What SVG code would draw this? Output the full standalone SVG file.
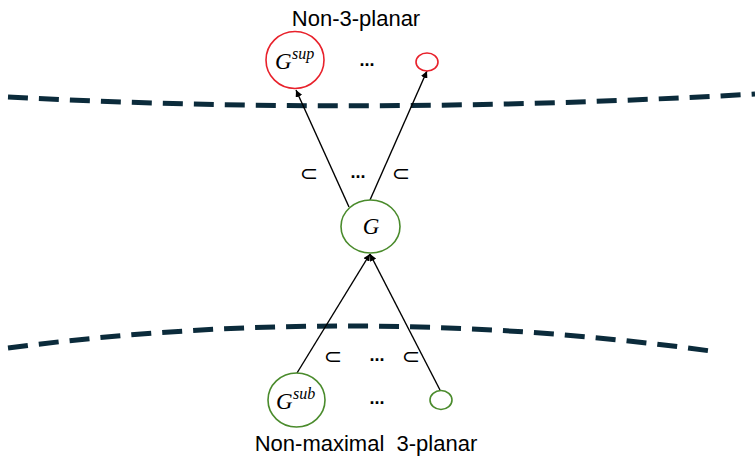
<svg xmlns="http://www.w3.org/2000/svg" width="755" height="457" viewBox="0 0 755 457">
<defs>
<marker id="arr" viewBox="0 0 10 10" refX="10" refY="5" markerWidth="7" markerHeight="7" markerUnits="userSpaceOnUse" orient="auto">
<path d="M0,0 L10,5 L0,10 z" fill="#000"/>
</marker>
<style>
.lbl{font-family:"Liberation Sans",Arial,sans-serif;font-size:22px;fill:#000;text-anchor:middle}
.math{font-family:"Liberation Serif","Times New Roman",serif;font-style:italic;fill:#000}
.sym{font-family:"DejaVu Sans",sans-serif;font-size:22px;fill:#000;text-anchor:middle}
.dots{font-family:"Liberation Sans",Arial,sans-serif;font-size:18px;font-weight:bold;fill:#000;text-anchor:middle}
.red{fill:#fff;stroke:#E8212B;stroke-width:1.6}
.green{fill:#fff;stroke:#4A8B2C;stroke-width:1.6}
.edge{stroke:#000;stroke-width:1.4;fill:none;marker-end:url(#arr)}
.sep{stroke:#0B2B3B;stroke-width:5;fill:none;stroke-dasharray:20 11}
</style>
</defs>
<rect width="755" height="457" fill="#fff"/>
<g id="separators">
<path class="sep" d="M8,97 Q370,116 755,94"/>
<path class="sep" d="M8,348 Q360,302 718,352"/>
</g>
<g id="connectors">
<line class="edge" x1="349" y1="207" x2="296" y2="90"/>
<line class="edge" x1="370" y1="200" x2="427" y2="71"/>
<line class="edge" x1="297" y1="373" x2="370" y2="254"/>
<line class="edge" x1="440" y1="390" x2="370" y2="254"/>
</g>
<g id="title-top"><text class="lbl" x="356" y="26">Non-3-planar</text></g>
<g id="node-gsup">
<ellipse class="red" cx="295" cy="60" rx="29" ry="28.5"/>
<text class="math" x="275" y="69" font-size="23">G</text>
<text class="math" x="292" y="59" font-size="16">sup</text>
</g>
<g id="node-red-small"><ellipse class="red" cx="427" cy="62" rx="11" ry="9"/></g>
<g id="dots-top"><text class="dots" x="367" y="66">...</text></g>
<g id="node-g">
<ellipse class="green" cx="370.5" cy="226.5" rx="29.5" ry="26.5"/>
<text class="math" x="371" y="234" font-size="23" text-anchor="middle">G</text>
</g>
<g id="labels-mid">
<text class="sym" x="309" y="181">⊂</text>
<text class="dots" x="358" y="178">...</text>
<text class="sym" x="401" y="181">⊂</text>
</g>
<g id="labels-bottom">
<text class="sym" x="333" y="364">⊂</text>
<text class="dots" x="377" y="361">...</text>
<text class="sym" x="411" y="364">⊂</text>
</g>
<g id="node-gsub">
<ellipse class="green" cx="296.5" cy="400" rx="28.5" ry="27"/>
<text class="math" x="276" y="409" font-size="23">G</text>
<text class="math" x="293" y="399" font-size="16">sub</text>
</g>
<g id="dots-bottom"><text class="dots" x="377" y="404">...</text></g>
<g id="node-green-small"><ellipse class="green" cx="441" cy="400" rx="11" ry="9.5"/></g>
<g id="title-bottom"><text class="lbl" x="366" y="451" xml:space="preserve" style="white-space:pre">Non-maximal  3-planar</text></g>
</svg>
